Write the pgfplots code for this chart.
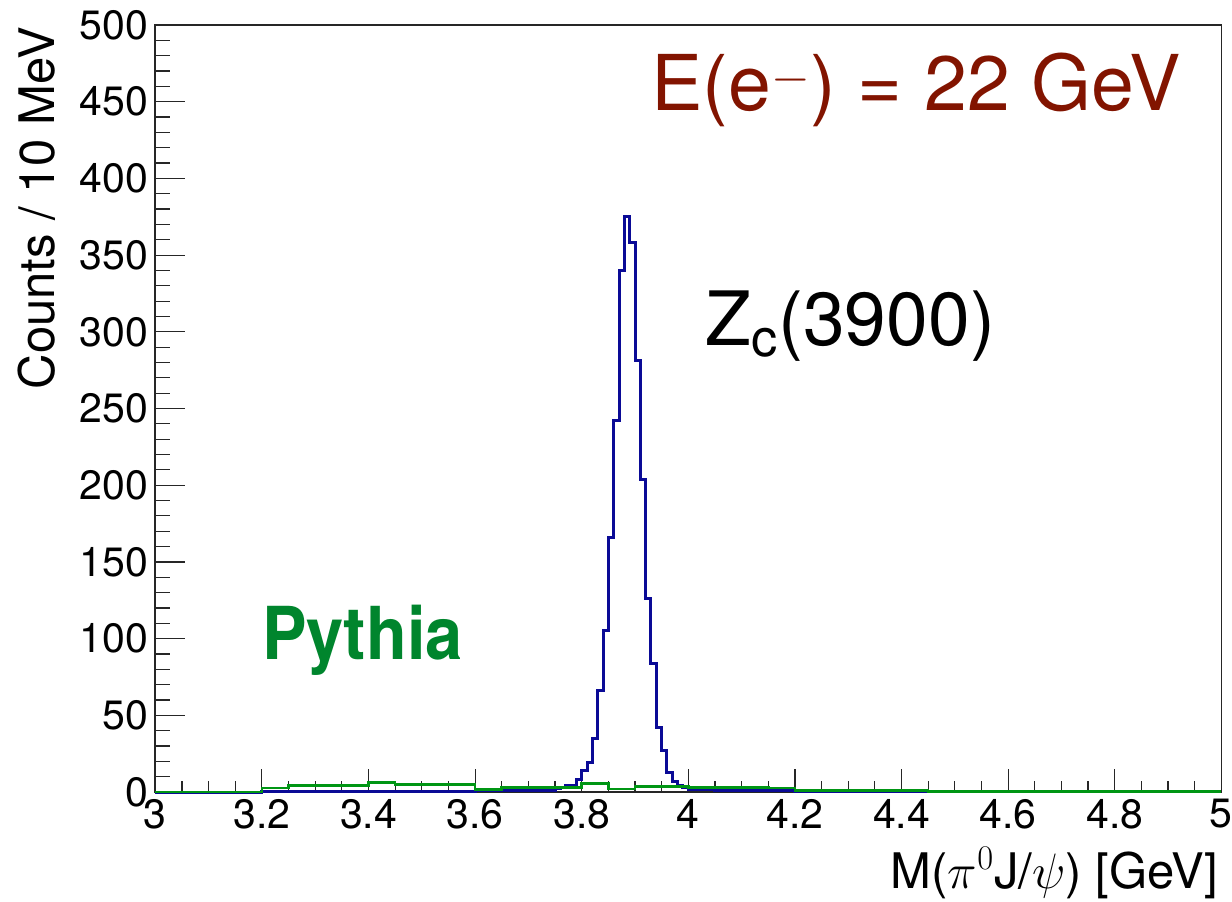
\documentclass[border=0pt]{standalone}
\usepackage{fontspec}
\setmainfont{TeX Gyre Heros}
\newfontfamily\condbold[FakeStretch=0.915]{TeX Gyre Heros Bold}
\usepackage{pgfplots}
\pgfplotsset{compat=1.18}
\usetikzlibrary{calc}
\definecolor{zblue}{RGB}{10,10,150}
\definecolor{pgreen}{RGB}{0,150,20}
\definecolor{ptext}{RGB}{0,133,45}
\definecolor{ered}{RGB}{130,20,0}
\begin{document}
\begin{tikzpicture}
\begin{axis}[
  scale only axis,
  width=533pt, height=383.5pt,
  xmin=3, xmax=5, ymin=0, ymax=500,
  clip=false,
  axis line style={black!85, line width=0.8pt},
  xtick={3,3.2,...,5.01},
  xticklabels={3,3.2,3.4,3.6,3.8,4,4.2,4.4,4.6,4.8,5},
  ytick={0,50,...,500},
  minor x tick num=3,
  minor y tick num=4,
  tick align=inside,
  xtick pos=left, ytick pos=left,
  tick style={black!85, line width=0.6pt},
  xtick style={/pgfplots/major tick length=11.5pt, /pgfplots/minor tick length=5.5pt},
  ytick style={/pgfplots/major tick length=15pt, /pgfplots/minor tick length=7.5pt},
  /pgf/number format/assume math mode=true,
  tick label style={font=\fontsize{20.5}{24}\selectfont},
  xlabel={M($\pi^{0}$J/$\psi$) [GeV]},
  ylabel={Counts / 10 MeV},
  label style={font=\fontsize{24.5}{28}\selectfont},
  xlabel style={at={(axis description cs:1,0)}, anchor=base east, yshift=-48pt, xshift=2pt},
  ylabel style={at={(axis description cs:-0.111,1.0065)}, anchor=east},
]
\addplot[const plot, color=zblue, line width=1.5pt] coordinates {
(3.00,0) (3.20,0.3) (3.60,0.8) (3.75,2) (3.76,3) (3.77,4.5) (3.78,4.5)
(3.79,8) (3.80,14) (3.81,19) (3.82,35) (3.83,66) (3.84,105) (3.85,166)
(3.86,242) (3.87,340) (3.88,375) (3.89,358) (3.90,281) (3.91,204)
(3.92,126) (3.93,84) (3.94,42) (3.95,27) (3.96,13) (3.97,7) (3.98,4.5)
(3.99,3) (4.00,1.5) (4.05,1) (4.20,0.4) (4.40,0.2) (5.00,0.2)
};
\addplot[const plot, color=pgreen, line width=1.3pt] coordinates {
(3.00,0) (3.20,2.5) (3.25,4.3) (3.40,6.3) (3.45,4.8) (3.60,1.5) (3.65,3)
(3.80,5.5) (3.85,2) (3.90,3.5) (4.00,3) (4.15,2.5) (4.20,0.8) (4.45,0.4)
(4.70,0.2) (5.00,0.2)
};
\node[anchor=base west, inner sep=0pt, text=ered, font=\fontsize{38.5}{42}\selectfont] at (axis cs:3.930,444) {E(e$^{-}$) = 22 GeV};
\node[anchor=base west, inner sep=0pt, text=black, font=\fontsize{37.5}{40}\selectfont] at (axis cs:4.031,291) {Z\textsubscript{c}(3900)};
\node[anchor=base west, inner sep=0pt, text=ptext, font=\fontsize{36.5}{38}\condbold] at (axis cs:3.200,86.7) {Pythia};
\end{axis}
\pgfresetboundingbox
\path[use as bounding box] ($(current axis.south west)+(-77.65pt,-54.5pt)$) rectangle +(616pt,450.5pt);
\end{tikzpicture}
\end{document}
